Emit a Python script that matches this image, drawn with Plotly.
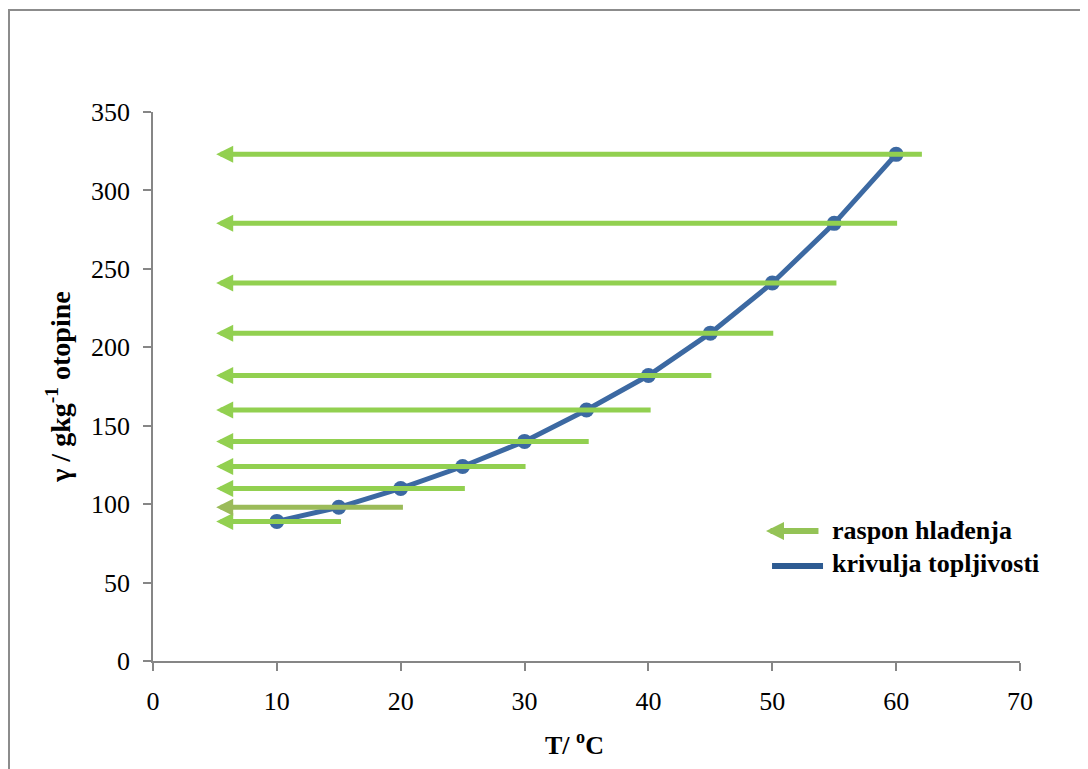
import plotly.graph_objects as go

# Data
temperature = [10, 15, 20, 25, 30, 35, 40, 45, 50, 55, 60]
solubility = [89, 98, 110, 124, 140, 160, 182, 209, 241, 279, 323]
# cooling range arrows: start (right end) and end (arrow tip) temperatures
arrow_start = [15.3, 20.3, 25.3, 30.2, 35.3, 40.3, 45.2, 50.2, 55.3, 60.2, 62.2]
arrow_tip = 5.1
arrow_colors = ["#92D050", "#9BBB59", "#92D050", "#92D050", "#92D050", "#92D050",
                "#92D050", "#92D050", "#92D050", "#92D050", "#92D050"]
x_ticks = [0, 10, 20, 30, 40, 50, 60, 70]
y_ticks = [0, 50, 100, 150, 200, 250, 300, 350]
legend_labels = ["raspon hlađenja", "krivulja topljivosti"]
x_title = "<b>T/ <sup>o</sup>C</b>"
y_title = "<b>γ / gkg<sup>-1</sup> otopine</b>"

BLUE = "#3C69A2"
AXIS = "#868686"
FONT = "Liberation Serif"

fig = go.Figure()
fig.add_trace(go.Scatter(
    x=temperature, y=solubility, mode="lines+markers",
    line=dict(color=BLUE, width=5),
    marker=dict(color=BLUE, size=15),
    showlegend=False, hoverinfo="skip",
))

annotations = []
for xs, ys, c in zip(arrow_start, solubility, arrow_colors):
    annotations.append(dict(
        x=arrow_tip, y=ys, ax=xs, ay=ys, xref="x", yref="y", axref="x", ayref="y",
        text="", showarrow=True, arrowhead=2, arrowsize=0.68, arrowwidth=5,
        arrowcolor=c, standoff=0, startstandoff=0,
    ))

# legend (drawn manually)
annotations.append(dict(
    x=0.7070, y=0.2368, xref="paper", yref="paper", ax=54, ay=0,
    text="", showarrow=True, arrowhead=2, arrowsize=0.6, arrowwidth=6,
    arrowcolor="#94C356",
))
annotations.append(dict(
    x=0.7809, y=0.2368, xref="paper", yref="paper", xanchor="left", yanchor="middle",
    text="<b>%s</b>" % legend_labels[0], showarrow=False,
    font=dict(family=FONT, size=26, color="#000000"),
))
annotations.append(dict(
    x=0.7809, y=0.1767, xref="paper", yref="paper", xanchor="left", yanchor="middle",
    text="<b>%s</b>" % legend_labels[1], showarrow=False,
    font=dict(family=FONT, size=26, color="#000000"),
))
# x axis title
annotations.append(dict(
    x=0.4867, y=-0.1494, xref="paper", yref="paper", xanchor="center", yanchor="middle",
    text=x_title, showarrow=False,
    font=dict(family=FONT, size=26, color="#000000"),
))

shapes = [
    dict(type="line", xref="paper", yref="paper", x0=0.7140, x1=0.7728, y0=0.1730, y1=0.1730,
         line=dict(color="#2D5B92", width=6)),
    dict(type="rect", xref="paper", yref="paper", x0=-0.1661, x1=1.2, y0=-0.4, y1=1.1858,
         line=dict(color="#8C8C8C", width=2), layer="below"),
]

# page body has an 8px margin, so the figure is 8px smaller and margins compensate
fig.update_layout(
    width=1080, height=761,
    margin=dict(l=145, r=68, t=104, b=108),
    paper_bgcolor="white", plot_bgcolor="white",
    font=dict(family=FONT, size=26, color="#000000"),
    annotations=annotations, shapes=shapes,
    xaxis=dict(
        range=[0, 70], tickvals=x_ticks, ticks="outside", ticklen=8, tickwidth=1.5,
        tickcolor=AXIS, showline=True, linecolor=AXIS, linewidth=1.5,
        showgrid=False, zeroline=False, ticklabelstandoff=8,
        tickfont=dict(family=FONT, size=26),
    ),
    yaxis=dict(
        range=[0, 350], tickvals=y_ticks, ticks="outside", ticklen=8, tickwidth=1.5,
        tickcolor=AXIS, showline=True, linecolor=AXIS, linewidth=1.5,
        showgrid=False, zeroline=False, ticklabelstandoff=8,
        tickfont=dict(family=FONT, size=26),
        title=dict(text=y_title, standoff=12,
                   font=dict(family=FONT, size=28)),
    ),
)

fig.write_html("out.html")
